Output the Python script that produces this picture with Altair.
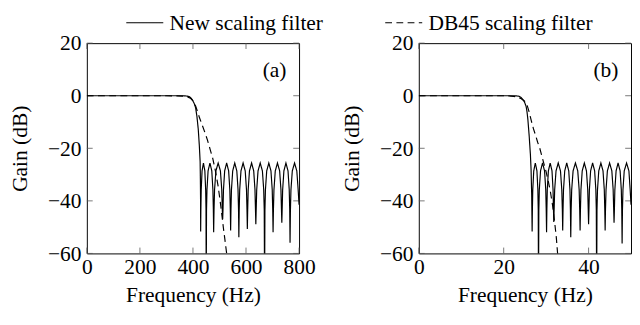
import altair as alt
import pandas as pd

NEW = "New scaling filter"
DB45 = "DB45 scaling filter"
FONT = "Liberation Serif"
FS = 22

y_ticks = [-60, -40, -20, 0, 20]
a_x_ticks = [0, 200, 400, 600, 800]
b_x_ticks = [0, 20, 40]

# ---------- panel (a): frequency in Hz ----------
a_new_freq = [0, 100, 200, 300, 360, 375, 385, 392, 399, 405, 410, 415, 420, 424, 427, 428, 428.7, 429,
              429.8, 431.1, 434.3, 439.5, 444.8, 447.9, 449.2, 450,
              451.1, 452.8, 457, 464, 471, 475.2, 476.9, 478,
              479.4, 481.4, 486.5, 495, 503.5, 508.6, 510.6, 512,
              513.2, 515, 519.5, 527, 534.5, 539, 540.8, 542,
              543.2, 545.1, 549.8, 557.5, 565.3, 569.9, 571.8, 573,
              574.3, 576.2, 581, 589, 597, 601.8, 603.7, 605,
              606.3, 608.2, 613, 621, 629, 633.8, 635.7, 637,
              638.3, 640.3, 645.3, 653.5, 661.8, 666.7, 668.7, 670,
              671.3, 673.2, 678, 686, 694, 698.8, 700.7, 702,
              703.3, 705.3, 710.3, 718.5, 726.8, 731.7, 733.7, 735,
              736.2, 738.1, 742.8, 750.5, 758.3, 762.9, 764.8, 766,
              767.4, 769.4, 774.5, 783, 791.5, 796.6, 800]
a_new_gain = [0, 0, 0, 0, 0, -0.1, -0.3, -0.8, -1.8, -3.0, -4.6, -7.9, -12.8, -19, -25, -32, -40, -51.7,
              -43.5, -35.8, -28.6, -25.6, -28.6, -35.8, -43.5, -75,
              -43.5, -35.8, -28.6, -25.6, -28.6, -35.8, -43.5, -51.9,
              -43.5, -35.8, -28.6, -25.6, -28.6, -35.8, -43.5, -47,
              -43.5, -35.8, -28.6, -25.6, -28.6, -35.8, -43.5, -51.3,
              -43.5, -35.8, -28.6, -25.6, -28.6, -35.8, -43.5, -53.8,
              -43.5, -35.8, -28.6, -25.6, -28.6, -35.8, -43.5, -50.7,
              -43.5, -35.8, -28.6, -25.6, -28.6, -35.8, -43.5, -48.9,
              -43.5, -35.8, -28.6, -25.6, -28.6, -35.8, -43.5, -75,
              -43.5, -35.8, -28.6, -25.6, -28.6, -35.8, -43.5, -51.9,
              -43.5, -35.8, -28.6, -25.6, -28.6, -35.8, -43.5, -48.3,
              -43.5, -35.8, -28.6, -25.6, -28.6, -35.8, -43.5, -55.9,
              -43.5, -35.8, -28.6, -25.6, -28.6, -35.8, -41.5]
a_db45_freq = [0, 100, 200, 300, 340, 360, 375, 390, 400, 405, 410, 417, 425, 435, 445, 455, 465,
               475, 485, 495, 505, 515, 522, 527, 532]
a_db45_gain = [0, 0, 0, 0, -0.05, -0.15, -0.3, -0.9, -1.9, -2.8, -3.9, -6, -8.5, -11.2, -14, -17, -20.5,
               -24, -28.8, -34.5, -42, -50.5, -56, -60, -66]

# ---------- panel (b) ----------
b_new_freq = [0, 10, 20, 23.0, 23.6, 24.1, 24.7, 25.0, 25.3, 25.5, 25.7, 26.0, 26.3, 26.45, 26.6, 26.7,
              26.76, 26.85, 27.08, 27.45, 27.83, 28.05, 28.14, 28.2,
              28.28, 28.39, 28.68, 29.15, 29.63, 29.91, 30.02, 30.1,
              30.17, 30.27, 30.53, 30.95, 31.38, 31.63, 31.73, 31.8,
              31.88, 32.01, 32.33, 32.85, 33.38, 33.69, 33.82, 33.9,
              33.98, 34.09, 34.38, 34.85, 35.33, 35.61, 35.72, 35.8,
              35.89, 36.02, 36.35, 36.9, 37.45, 37.78, 37.91, 38.0,
              38.08, 38.2, 38.5, 39.0, 39.5, 39.8, 39.92, 40.0,
              40.08, 40.19, 40.48, 40.95, 41.43, 41.71, 41.82, 41.9,
              41.98, 42.1, 42.4, 42.9, 43.4, 43.7, 43.82, 43.9,
              43.98, 44.11, 44.43, 44.95, 45.48, 45.79, 45.92, 46.0,
              46.08, 46.19, 46.48, 46.95, 47.43, 47.71, 47.82, 47.9,
              47.98, 48.1, 48.4, 48.95, 49.5, 49.8, 50]
b_new_gain = [0, 0, 0, -0.05, -0.2, -0.7, -1.8, -2.8, -4.2, -6.2, -9.1, -15.2, -22.6, -28, -38, -51.7,
              -43.5, -35.8, -28.6, -25.6, -28.6, -35.8, -43.5, -75,
              -43.5, -35.8, -28.6, -25.6, -28.6, -35.8, -43.5, -51.9,
              -43.5, -35.8, -28.6, -25.6, -28.6, -35.8, -43.5, -48,
              -43.5, -35.8, -28.6, -25.6, -28.6, -35.8, -43.5, -51.3,
              -43.5, -35.8, -28.6, -25.6, -28.6, -35.8, -43.5, -53.8,
              -43.5, -35.8, -28.6, -25.6, -28.6, -35.8, -43.5, -51.3,
              -43.5, -35.8, -28.6, -25.6, -28.6, -35.8, -43.5, -48.9,
              -43.5, -35.8, -28.6, -25.6, -28.6, -35.8, -43.5, -75,
              -43.5, -35.8, -28.6, -25.6, -28.6, -35.8, -43.5, -51.3,
              -43.5, -35.8, -28.6, -25.6, -28.6, -35.8, -43.5, -48.3,
              -43.5, -35.8, -28.6, -25.6, -28.6, -35.8, -43.5, -56.2,
              -43.5, -35.8, -28.6, -25.6, -28.6, -35.8, -41.5]
b_db45_freq = [0, 10, 20, 21.5, 23, 24, 25, 25.5, 26, 26.5, 27, 27.5, 28, 28.5, 29, 29.5, 30,
               30.5, 31, 31.5, 32, 32.4, 32.7, 33]
b_db45_gain = [0, 0, 0, -0.1, -0.4, -1.0, -2.2, -3.5, -6.2, -9.5, -12.5, -15, -17.7, -20, -23, -26, -29,
               -32.5, -36.5, -41.5, -48, -54, -60, -65]


def table(fn, gn, fd, gd):
    return pd.concat([
        pd.DataFrame({"freq": fn, "gain": gn, "series": NEW}),
        pd.DataFrame({"freq": fd, "gain": gd, "series": DB45}),
    ], ignore_index=True)


W, H = 218, 216
TICK = 6
DASH = [7, 4.5]


def panel(df, xdom, xticks, tag):
    xenc = alt.X("freq:Q",
                 scale=alt.Scale(domain=xdom, nice=False, zero=False),
                 axis=alt.Axis(values=xticks, title="Frequency (Hz)", ticks=False, domain=False,
                               grid=False, labelFlush=False, labelPadding=4, titlePadding=7,
                               format="d", labelFont=FONT, titleFont=FONT,
                               labelFontSize=FS, titleFontSize=FS, labelColor="black",
                               titleColor="black", titleFontWeight="normal"))
    yenc = alt.Y("gain:Q",
                 scale=alt.Scale(domain=[-60, 20], nice=False),
                 axis=alt.Axis(values=y_ticks, title="Gain (dB)", ticks=False, domain=False,
                               grid=False, labelPadding=6, titlePadding=17,
                               labelFont=FONT, titleFont=FONT,
                               labelFontSize=FS, titleFontSize=FS, labelColor="black",
                               titleColor="black", titleFontWeight="normal"))
    dash = alt.StrokeDash(
        "series:N",
        scale=alt.Scale(domain=[NEW, DB45], range=[[1, 0], DASH]),
        legend=alt.Legend(orient="none", legendX=58, legendY=-32, direction="horizontal",
                          title=None, symbolType="M-3,0H1", symbolSize=361,
                          symbolStrokeWidth=1.2, symbolStrokeColor="black",
                          labelFont=FONT, labelFontSize=FS, labelColor="black",
                          labelLimit=400, labelOffset=5, columnPadding=61, padding=0),
    )
    lines = alt.Chart(df).mark_line(clip=True, color="black", strokeWidth=1.2).encode(
        x=xenc, y=yenc, strokeDash=dash)
    xt = pd.DataFrame({"freq": xticks})
    yt = pd.DataFrame({"gain": y_ticks})
    ts = dict(color="#555555", strokeWidth=0.8)
    bottom = alt.Chart(xt).mark_rule(**ts).encode(x=xenc, y=alt.value(H), y2=alt.value(H - TICK))
    top = alt.Chart(xt).mark_rule(**ts).encode(x=xenc, y=alt.value(0), y2=alt.value(TICK))
    left = alt.Chart(yt).mark_rule(**ts).encode(y=yenc, x=alt.value(0), x2=alt.value(TICK))
    right = alt.Chart(yt).mark_rule(**ts).encode(y=yenc, x=alt.value(W), x2=alt.value(W - TICK))
    label = alt.Chart(pd.DataFrame({"tag": [tag]})).mark_text(
        font=FONT, fontSize=FS, align="right", baseline="middle", color="black").encode(
        text="tag:N", x=alt.value(W - 13), y=alt.value(28))
    return alt.layer(bottom, top, left, right, lines, label).properties(width=W, height=H)


pa = panel(table(a_new_freq, a_new_gain, a_db45_freq, a_db45_gain), [0, 800], a_x_ticks, "(a)")
pb = panel(table(b_new_freq, b_new_gain, b_db45_freq, b_db45_gain), [0, 50], b_x_ticks, "(b)")

chart = alt.hconcat(pa, pb, spacing=25).properties(padding=0).configure_view(
    stroke="black", strokeWidth=1
).configure_axis(
    labelFont=FONT, titleFont=FONT, labelFontSize=FS, titleFontSize=FS,
    labelColor="black", titleColor="black", titleFontWeight="normal"
)

chart.save("out.html", embed_options={"renderer": "svg", "actions": False})
